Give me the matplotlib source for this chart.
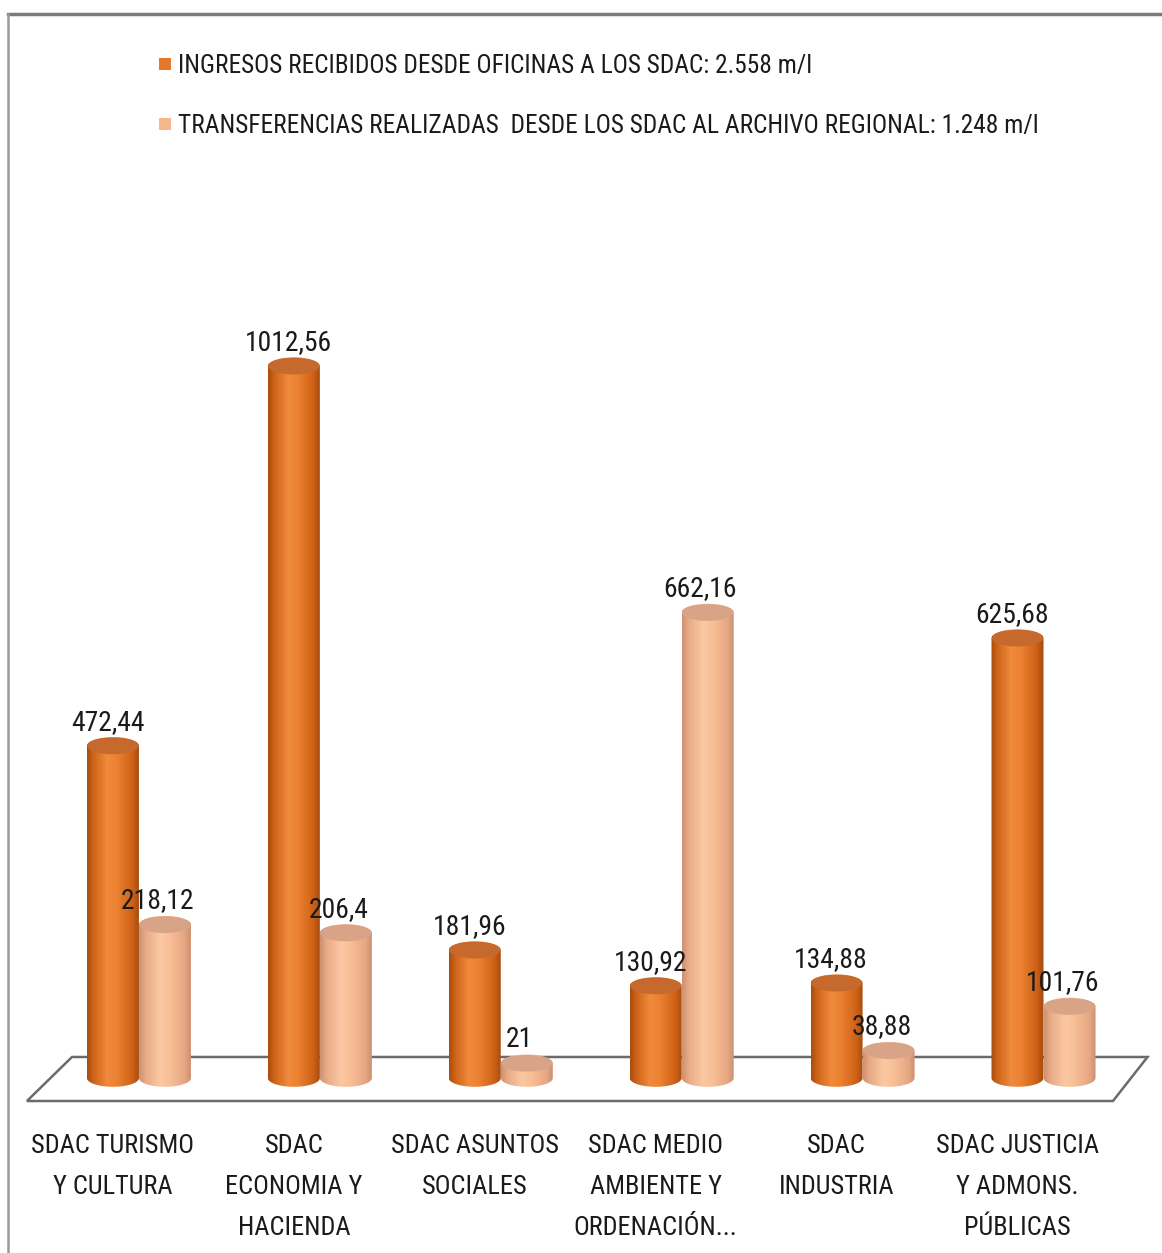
import numpy as np
import matplotlib
matplotlib.use("Agg")
import matplotlib.pyplot as plt
from matplotlib import font_manager as fm
from matplotlib.font_manager import FontProperties
from matplotlib.textpath import TextPath
from matplotlib.patches import Ellipse, Polygon, PathPatch, Rectangle
from matplotlib.path import Path
from matplotlib.colors import LinearSegmentedColormap
from matplotlib.lines import Line2D

# ---- data ----
categories = [
    "SDAC TURISMO\nY CULTURA",
    "SDAC\nECONOMIA Y\nHACIENDA",
    "SDAC ASUNTOS\nSOCIALES",
    "SDAC MEDIO\nAMBIENTE Y\nORDENACIÓN...",
    "SDAC\nINDUSTRIA",
    "SDAC JUSTICIA\nY ADMONS.\nPÚBLICAS",
]
ingresos = [472.44, 1012.56, 181.96, 130.92, 134.88, 625.68]
transferencias = [218.12, 206.4, 21, 662.16, 38.88, 101.76]
series_names = [
    "INGRESOS RECIBIDOS DESDE OFICINAS A LOS SDAC: 2.558 m/l",
    "TRANSFERENCIAS REALIZADAS  DESDE LOS SDAC AL ARCHIVO REGIONAL: 1.248 m/l",
]
series_colors = ["#E8772A", "#F6B78F"]


# ---- font: prefer a narrow sans face ----
def choose_font():
    entries = fm.fontManager.ttflist
    names = {e.name for e in entries}
    for cand in ["Liberation Sans Narrow", "Arial Narrow", "Roboto Condensed",
                 "Open Sans Condensed", "Noto Sans Condensed", "DejaVu Sans Condensed"]:
        if cand in names:
            return FontProperties(family=cand)
    for e in entries:
        if str(e.stretch) in ("condensed", "semi-condensed", "extra-condensed") \
                and e.style == "normal" and str(e.weight) in ("400", "normal", "regular"):
            return FontProperties(family=e.name, stretch=e.stretch)
    for cand in ["Liberation Sans", "Roboto", "DejaVu Sans"]:
        if cand in names:
            return FontProperties(family=cand)
    return FontProperties(family="DejaVu Sans")


BASE_FP = choose_font()
DPI = 100


def sized(text, target_px, cap=None):
    """Font properties whose ink width for `text` is about target_px pixels."""
    tp = TextPath((0, 0), text, size=100, prop=BASE_FP)
    w_px = tp.get_extents().width * DPI / 72
    size = 100 * target_px / w_px
    if cap is not None:
        size = min(size, cap)
    fp = BASE_FP.copy()
    fp.set_size(size)
    ch = TextPath((0, 0), "H", size=size, prop=BASE_FP).get_extents().height * DPI / 72
    return fp, ch


W, H = 1162, 1253
fig = plt.figure(figsize=(W / DPI, H / DPI), dpi=DPI)
ax = fig.add_axes([0, 0, 1, 1])
ax.set_axis_off()

XLIM = (-0.768, 5.655)
YLIM = (-248.9, 1533.4)
PX_PER_UNIT = H / (YLIM[1] - YLIM[0])

bar_w = 0.2875
cap_h = 25.0
dark_off = -bar_w / 2
light_off = bar_w / 2

cmap_dark = LinearSegmentedColormap.from_list(
    "dark", [(0, "#A94C0E"), (0.12, "#CF6419"), (0.38, "#F08A3C"),
             (0.55, "#EC8232"), (0.85, "#D06217"), (1, "#A24A0E")])
cmap_light = LinearSegmentedColormap.from_list(
    "light", [(0, "#CD9072"), (0.12, "#E7AA86"), (0.4, "#FBC8A3"),
              (0.6, "#F8BD95"), (0.86, "#E6A783"), (1, "#C88C6E")])
cap_dark = "#C56A2C"
cap_light = "#D9A388"


def cylinder(xc, height, cmap, cap_color, z):
    x0 = xc - bar_w / 2
    t = np.linspace(np.pi, 2 * np.pi, 60)
    bx = xc + bar_w / 2 * np.cos(t)
    by = cap_h / 2 * np.sin(t)
    t2 = np.linspace(0, np.pi, 60)
    tx = xc + bar_w / 2 * np.cos(t2)
    ty = height + cap_h / 2 * np.sin(t2)
    verts = np.vstack([[[x0, height]], np.column_stack([bx, by]),
                       np.column_stack([tx, ty]), [[x0, height]]])
    codes = [Path.MOVETO] + [Path.LINETO] * (len(verts) - 2) + [Path.CLOSEPOLY]
    body = PathPatch(Path(verts, codes), facecolor="none", edgecolor="none", zorder=z)
    ax.add_patch(body)
    grad = np.linspace(0, 1, 256)[None, :]
    im = ax.imshow(grad, cmap=cmap, aspect="auto", interpolation="bicubic",
                   extent=[x0, x0 + bar_w, -cap_h / 2, height + cap_h / 2],
                   zorder=z)
    im.set_clip_path(body)
    ax.add_patch(Ellipse((xc, height), bar_w * 0.98, cap_h * 0.95,
                         facecolor=cap_color, edgecolor="none", zorder=z + 0.1))


# floor
floor = Polygon([(-0.370, 29.9), (5.575, 29.9), (5.384, -32.7), (-0.619, -32.7)],
                closed=True, facecolor="white", edgecolor="#6b6b6b", lw=1.8, zorder=1)
ax.add_patch(floor)

x = np.arange(len(categories))
for i in x:
    cylinder(i + light_off, transferencias[i], cmap_light, cap_light, 2)
    cylinder(i + dark_off, ingresos[i], cmap_dark, cap_dark, 3)


def fmt(v):
    return f"{v:g}".replace(".", ",")


val_fp, val_cap = sized("472,44", 72, cap=24)
cat_fp, cat_cap = sized("SDAC TURISMO", 160, cap=24)
leg_fp, leg_cap = sized(series_names[1], 857, cap=24)

# value labels: text centre about 26 px above the cap centre
lab_gap = 26 / PX_PER_UNIT
val_shift = (val_cap / 2) / PX_PER_UNIT
for i in x:
    ax.text(i + dark_off - 0.03, ingresos[i] + lab_gap - val_shift, fmt(ingresos[i]),
            ha="center", va="baseline", fontproperties=val_fp, color="#1a1a1a", zorder=6)
    ax.text(i + light_off - 0.04, transferencias[i] + lab_gap - val_shift,
            fmt(transferencias[i]), ha="center", va="baseline",
            fontproperties=val_fp, color="#1a1a1a", zorder=6)

# category labels, one row at a time (row centres 1144, 1185, 1226 px)
first_row = -66 / PX_PER_UNIT
row_step = 41 / PX_PER_UNIT
cat_shift = (cat_cap / 2) / PX_PER_UNIT
for i in x:
    for k, line in enumerate(categories[i].split("\n")):
        ax.text(i + dark_off, first_row - k * row_step - cat_shift, line,
                ha="center", va="baseline", fontproperties=cat_fp,
                color="#1a1a1a", zorder=6)

ax.set_xlim(*XLIM)
ax.set_ylim(*YLIM)

# legend
for k, (name, col) in enumerate(zip(series_names, series_colors)):
    yc = 64 + 60 * k
    fig.add_artist(Rectangle(((159) / W, 1 - (yc + 6) / H), 12 / W, 12 / H,
                             transform=fig.transFigure, facecolor=col,
                             edgecolor="none"))
    fig.text(178 / W, 1 - (yc + leg_cap / 2) / H, name, ha="left", va="baseline",
             fontproperties=leg_fp, color="#1a1a1a")

# outer frame
fig.add_artist(Line2D([8 / W, 1], [1 - 14 / H, 1 - 14 / H],
                      transform=fig.transFigure, color="#7a7a7a", lw=2.5))
fig.add_artist(Line2D([8 / W, 8 / W], [0, 1 - 14 / H],
                      transform=fig.transFigure, color="#9a9a9a", lw=1.8))

fig.savefig("out.png", dpi=DPI, facecolor="white")
